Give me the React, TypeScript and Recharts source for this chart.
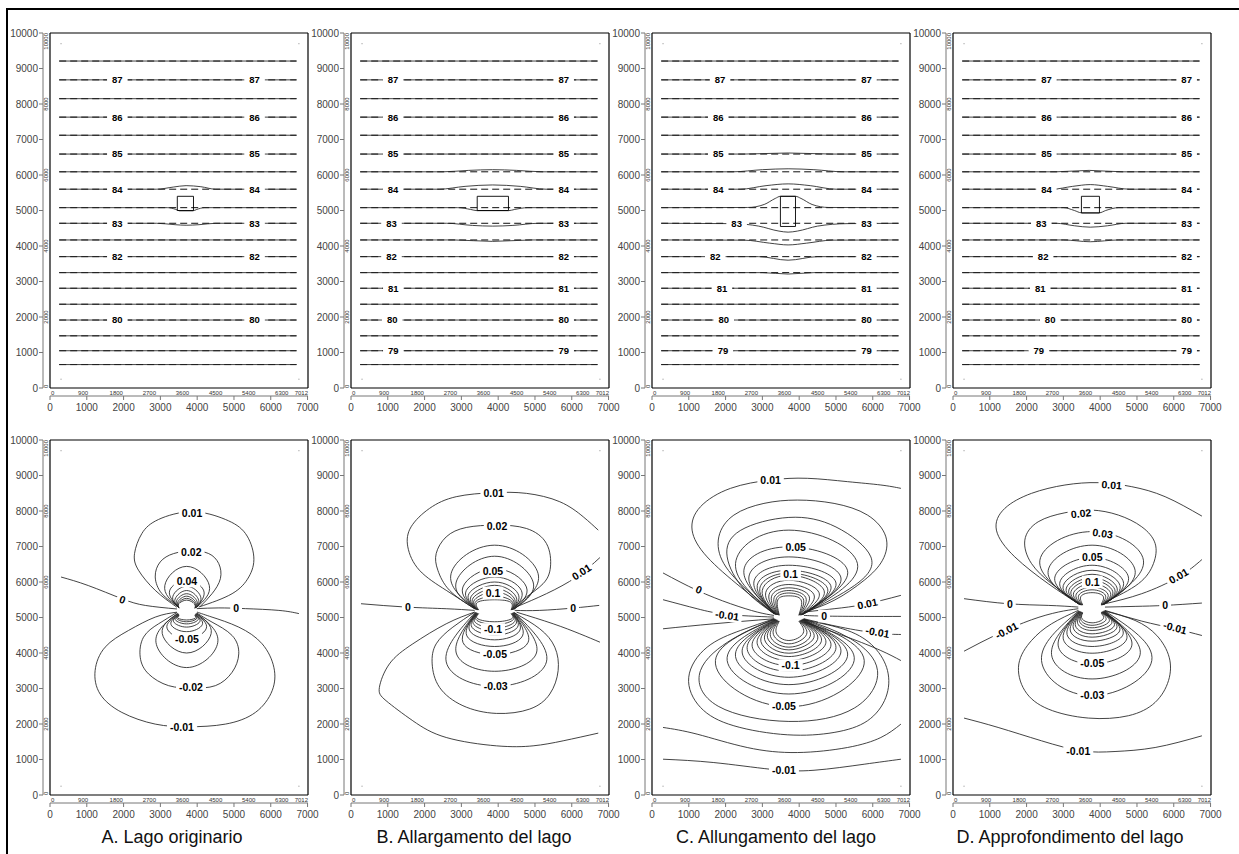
import React from 'react';
import { ComposedChart, Line, Scatter, XAxis, YAxis, ReferenceArea } from 'recharts';

type XY = [number, number];
interface Curve { pts: XY[]; kind: 'natural' | 'monotone' | 'linear'; dash?: boolean }
interface Tag { t: string; x: number; y: number; a?: number }
interface Lake { x1: number; x2: number; y1: number; y2: number }

// axis ticks
const OUTER_X_TICKS = [0, 1000, 2000, 3000, 4000, 5000, 6000, 7000];
const OUTER_Y_TICKS = [0, 1000, 2000, 3000, 4000, 5000, 6000, 7000, 8000, 9000, 10000];
const INNER_X_TICKS = [0, 900, 1800, 2700, 3600, 4500, 5400, 6300, 7012];
const INNER_Y_TICKS = [0, 2000, 4000, 6000, 8000, 10000];
const TOP_TICKS = [1000, 2000, 3000, 4000, 5000, 6000, 7000];

// ---- top row: hydraulic head (m) ----
const HEAD_Y = [9210, 8680, 8150, 7630, 7120, 6590, 6090, 5600, 5080, 4640, 4170, 3700, 3250, 2810, 2360, 1915, 1470, 1050, 660];
const HEAD_LEVELS = ['87.5', '87', '86.5', '86', '85.5', '85', '84.5', '84', '83.5', '83', '82.5', '82', '81.5', '81', '80.5', '80', '79.5', '79', '78.5'];
const HEAD_SPAN = [250, 6700];

const bendA: Record<string, XY[]> = {
  '84': [[250, 5600], [2900, 5600], [3350, 5660], [3700, 5700], [4100, 5670], [4500, 5600], [6700, 5600]],
  '83.5': [[250, 5080], [3200, 5080], [3420, 5030], [3520, 4990], [3880, 4990], [3990, 5030], [4200, 5080], [6700, 5080]],
  '83': [[250, 4640], [2900, 4640], [3400, 4600], [3700, 4585], [4050, 4600], [4500, 4640], [6700, 4640]],
};
const bendB: Record<string, XY[]> = {
  '84.5': [[250, 6090], [2500, 6090], [3200, 6130], [3850, 6150], [4500, 6130], [5200, 6090], [6700, 6090]],
  '84': [[250, 5600], [2400, 5600], [3100, 5680], [3850, 5720], [4600, 5680], [5300, 5600], [6700, 5600]],
  '83.5': [[250, 5080], [2900, 5080], [3250, 5030], [3430, 4995], [4280, 4995], [4450, 5030], [4800, 5080], [6700, 5080]],
  '83': [[250, 4640], [2600, 4640], [3300, 4580], [3850, 4560], [4400, 4580], [5100, 4640], [6700, 4640]],
  '82.5': [[250, 4170], [2800, 4170], [3850, 4130], [4900, 4170], [6700, 4170]],
};
const bendC: Record<string, XY[]> = {
  '85': [[250, 6590], [2500, 6590], [3700, 6620], [4900, 6590], [6700, 6590]],
  '84.5': [[250, 6090], [2200, 6090], [3000, 6150], [3700, 6175], [4400, 6150], [5200, 6090], [6700, 6090]],
  '84': [[250, 5600], [2400, 5600], [3100, 5700], [3700, 5750], [4300, 5700], [5000, 5600], [6700, 5600]],
  '83.5': [[250, 5080], [2600, 5085], [3050, 5170], [3350, 5340], [3490, 5400], [3900, 5400], [4050, 5340], [4350, 5170], [4800, 5085], [6700, 5080]],
  '83': [[250, 4640], [2200, 4630], [2900, 4560], [3450, 4420], [3700, 4390], [3950, 4420], [4500, 4560], [5300, 4630], [6700, 4640]],
  '82.5': [[250, 4170], [2500, 4165], [3200, 4080], [3700, 4030], [4200, 4080], [4900, 4165], [6700, 4170]],
  '82': [[250, 3700], [2900, 3700], [3700, 3600], [4500, 3700], [6700, 3700]],
  '81.5': [[250, 3250], [3000, 3250], [3700, 3210], [4400, 3250], [6700, 3250]],
};
const bendD: Record<string, XY[]> = {
  '84.5': [[250, 6090], [2800, 6090], [3700, 6130], [4600, 6090], [6700, 6090]],
  '84': [[250, 5600], [2700, 5600], [3250, 5680], [3730, 5730], [4200, 5680], [4800, 5600], [6700, 5600]],
  '83.5': [[250, 5080], [3000, 5080], [3300, 5000], [3490, 4935], [3980, 4935], [4150, 5000], [4500, 5080], [6700, 5080]],
  '83': [[250, 4640], [2800, 4640], [3300, 4570], [3730, 4530], [4200, 4570], [4700, 4640], [6700, 4640]],
  '82.5': [[250, 4170], [3000, 4170], [3730, 4120], [4500, 4170], [6700, 4170]],
};

// [label, y, left x, right x]
const headTagsA: [string, number, number, number][] = [
  ['87', 8680, 1830, 5560], ['86', 7630, 1830, 5560], ['85', 6590, 1830, 5560], ['84', 5600, 1830, 5560],
  ['83', 4640, 1830, 5560], ['82', 3700, 1830, 5560], ['80', 1915, 1830, 5560],
];
const headTagsB: [string, number, number, number][] = [
  ['87', 8680, 1140, 5780], ['86', 7630, 1140, 5780], ['85', 6590, 1140, 5780], ['84', 5600, 1140, 5780],
  ['83', 4640, 1100, 5780], ['82', 3700, 1100, 5780], ['81', 2810, 1150, 5780], ['80', 1915, 1120, 5780], ['79', 1050, 1150, 5780],
];
const headTagsC: [string, number, number, number][] = [
  ['87', 8680, 1850, 5830], ['86', 7630, 1800, 5830], ['85', 6590, 1800, 5830], ['84', 5600, 1800, 5830],
  ['83', 4620, 2300, 5830], ['82', 3700, 1720, 5830], ['81', 2810, 1900, 5830], ['80', 1915, 1950, 5830], ['79', 1050, 1930, 5830],
];
const headTagsD: [string, number, number, number][] = [
  ['87', 8680, 2540, 6350], ['86', 7630, 2540, 6350], ['85', 6590, 2540, 6350], ['84', 5600, 2540, 6350],
  ['83', 4640, 2400, 6350], ['82', 3700, 2450, 6350], ['81', 2810, 2370, 6350], ['80', 1915, 2640, 6350], ['79', 1050, 2330, 6350],
];

const lakeTopA: Lake = { x1: 3460, x2: 3900, y1: 5000, y2: 5400 };
const lakeTopB: Lake = { x1: 3430, x2: 4280, y1: 5000, y2: 5400 };
const lakeTopC: Lake = { x1: 3490, x2: 3900, y1: 4550, y2: 5400 };
const lakeTopD: Lake = { x1: 3490, x2: 3980, y1: 4930, y2: 5400 };

// ---- bottom row: head change (m) ----
const aOpen: XY[][] = [
  [[300, 6140], [1040, 5900], [1950, 5530], [2590, 5340], [3450, 5240]],
  [[3990, 5250], [4590, 5270], [5310, 5250], [6220, 5200], [6765, 5110]],
];
const aUpper: XY[][] = [
  [[3450, 5290], [2860, 5765], [2406, 6330], [2297, 6800], [2497, 7366], [2951, 7762], [3859, 7979], [4767, 7762], [5312, 7366], [5539, 6707], [5403, 6142], [4949, 5671], [4041, 5294]],
  [[3478, 5313], [3042, 5671], [2860, 6142], [2996, 6566], [3360, 6801], [3859, 6877], [4313, 6801], [4586, 6519], [4631, 6095], [4404, 5671], [4086, 5313]],
  [[3480, 5300], [3120, 5900], [3714, 6440], [4330, 5900], [4000, 5300]],
  [[3490, 5290], [3250, 5750], [3714, 6040], [4180, 5750], [3990, 5290]],
  [[3500, 5280], [3340, 5600], [3714, 5880], [4090, 5600], [3980, 5280]],
  [[3505, 5275], [3400, 5520], [3714, 5760], [4030, 5520], [3970, 5275]],
  [[3510, 5270], [3440, 5470], [3714, 5670], [3990, 5470], [3960, 5270]],
  [[3515, 5265], [3470, 5430], [3714, 5600], [3960, 5430], [3950, 5265]],
  [[3520, 5260], [3490, 5400], [3714, 5540], [3940, 5400], [3940, 5260]],
  [[3520, 5260], [3500, 5380], [3714, 5490], [3925, 5380], [3935, 5260]],
];
const aLower: XY[][] = [
  [[3450, 5150], [2860, 5011], [2134, 4635], [1498, 4164], [1226, 3504], [1362, 2845], [1952, 2327], [2860, 1997], [3768, 1922], [4767, 1997], [5584, 2327], [6038, 2939], [6084, 3598], [5766, 4258], [5130, 4729], [4404, 5011], [3995, 5153]],
  [[3450, 5140], [2951, 4823], [2542, 4446], [2452, 3881], [2679, 3410], [3224, 3080], [3859, 3014], [4495, 3080], [4949, 3457], [5130, 3975], [4949, 4493], [4404, 4870], [3995, 5125]],
  [[3470, 5120], [2880, 4300], [3714, 3590], [4560, 4300], [3980, 5120]],
  [[3480, 5110], [3050, 4550], [3714, 4000], [4380, 4550], [3970, 5110]],
  [[3490, 5100], [3180, 4700], [3714, 4400], [4250, 4700], [3960, 5100]],
  [[3500, 5090], [3290, 4800], [3714, 4600], [4140, 4800], [3950, 5090]],
  [[3505, 5080], [3360, 4880], [3714, 4730], [4070, 4880], [3945, 5080]],
  [[3510, 5070], [3410, 4930], [3714, 4820], [4020, 4930], [3940, 5070]],
  [[3515, 5060], [3450, 4960], [3714, 4880], [3980, 4960], [3935, 5060]],
  [[3518, 5050], [3480, 4980], [3714, 4930], [3950, 4980], [3930, 5050]],
];
const aTags: Tag[] = [
  { t: '0.01', x: 3860, y: 7950 }, { t: '0.02', x: 3841, y: 6848 }, { t: '0.04', x: 3723, y: 6029 },
  { t: '0', x: 1970, y: 5500, a: 19 }, { t: '0', x: 5058, y: 5266 },
  { t: '-0.05', x: 3723, y: 4399 }, { t: '-0.02', x: 3832, y: 3033 }, { t: '-0.01', x: 3587, y: 1922 },
];
const aLake: Lake = { x1: 3520, x2: 3900, y1: 5000, y2: 5410 };

const bOpen: XY[][] = [
  [[272, 5388], [1498, 5294], [2588, 5247], [3360, 5200]],
  [[4449, 5200], [5130, 5200], [6038, 5266], [6746, 5341]],
  [[4500, 5150], [5494, 4823], [6220, 4540], [6765, 4305]],
  [[4495, 5300], [5312, 5671], [6129, 6142], [6765, 6688]],
  [[3360, 5247], [2588, 5765], [1861, 6330], [1544, 6990], [1634, 7555], [2134, 8073], [2860, 8403], [3859, 8516], [4767, 8497], [5675, 8261], [6311, 7837], [6720, 7461]],
  [[3360, 5153], [2588, 4823], [1680, 4258], [1044, 3693], [772, 3033], [953, 2656], [1680, 2091], [2588, 1620], [3950, 1385], [4949, 1385], [5766, 1526], [6720, 1743]],
];
const bUpper: XY[][] = [
  [[3360, 5247], [2679, 5765], [2361, 6330], [2315, 6801], [2588, 7272], [3133, 7536], [3950, 7602], [4767, 7508], [5312, 7084], [5421, 6424], [5221, 5953], [4767, 5577], [4449, 5294]],
  [[3380, 5240], [2720, 6236], [3905, 7037], [5085, 6236], [4440, 5240]],
  [[3390, 5235], [2860, 6000], [3905, 6726], [4949, 6000], [4430, 5235]],
  [[3400, 5230], [3042, 5860], [3905, 6377], [4767, 5860], [4420, 5230]],
  [[3410, 5225], [3133, 5760], [3905, 6142], [4631, 5760], [4410, 5225]],
  [[3420, 5220], [3205, 5670], [3905, 6000], [4540, 5670], [4400, 5220]],
  [[3430, 5218], [3269, 5600], [3905, 5906], [4477, 5600], [4390, 5218]],
  [[3440, 5215], [3320, 5550], [3905, 5812], [4430, 5550], [4380, 5215]],
  [[3450, 5212], [3360, 5500], [3905, 5720], [4400, 5500], [4370, 5212]],
  [[3460, 5210], [3400, 5460], [3905, 5600], [4370, 5460], [4360, 5210]],
  [[3470, 5208], [3440, 5430], [3905, 5500], [4340, 5430], [4350, 5208]],
];
const bLower: XY[][] = [
  [[3360, 5153], [2769, 4729], [2315, 4258], [2206, 3693], [2406, 3033], [3042, 2515], [3950, 2298], [4858, 2421], [5403, 2845], [5630, 3504], [5539, 4164], [5130, 4682], [4449, 5125]],
  [[3380, 5150], [2588, 3750], [3905, 3061], [5312, 3750], [4440, 5150]],
  [[3390, 5145], [2860, 4000], [3905, 3485], [5040, 4000], [4430, 5145]],
  [[3400, 5140], [3042, 4300], [3905, 3956], [4813, 4300], [4420, 5140]],
  [[3410, 5135], [3150, 4480], [3905, 4183], [4660, 4480], [4410, 5135]],
  [[3420, 5130], [3230, 4620], [3905, 4371], [4580, 4620], [4400, 5130]],
  [[3430, 5125], [3290, 4720], [3905, 4503], [4520, 4720], [4390, 5125]],
  [[3440, 5120], [3340, 4800], [3905, 4610], [4470, 4800], [4380, 5120]],
  [[3450, 5115], [3380, 4860], [3905, 4700], [4430, 4860], [4370, 5115]],
  [[3460, 5110], [3420, 4920], [3905, 4800], [4390, 4920], [4360, 5110]],
  [[3470, 5105], [3450, 4960], [3905, 4880], [4360, 4960], [4350, 5105]],
];
const bTags: Tag[] = [
  { t: '0.01', x: 3877, y: 8497 }, { t: '0.02', x: 3968, y: 7583 }, { t: '0.05', x: 3859, y: 6311 }, { t: '0.1', x: 3859, y: 5690 },
  { t: '0', x: 1544, y: 5294 }, { t: '0', x: 6038, y: 5266 }, { t: '0.01', x: 6265, y: 6283, a: -33 },
  { t: '-0.1', x: 3859, y: 4663 }, { t: '-0.05', x: 3914, y: 3956 }, { t: '-0.03', x: 3932, y: 3061 },
];
const bLake: Lake = { x1: 3514, x2: 4295, y1: 5011, y2: 5407 };

const cOpen: XY[][] = [
  [[300, 6255], [1226, 5765], [2134, 5388], [2860, 5153], [3314, 5059]],
  [[300, 5501], [1226, 5247], [2043, 5087], [3314, 5011]],
  [[300, 4682], [1680, 4823], [3314, 4964]],
  [[4131, 5153], [4949, 5247], [5766, 5369], [6765, 5624]],
  [[4131, 5059], [4676, 5040], [5766, 5030], [6765, 5030]],
  [[4131, 4964], [5130, 4729], [6129, 4559], [6765, 4522]],
  [[4131, 4870], [5312, 4446], [6220, 4069], [6765, 3787]],
  [[3314, 5106], [2406, 5859], [1498, 6707], [1090, 7461], [1317, 8120], [2134, 8638], [3223, 8874], [4222, 8921], [5312, 8827], [6220, 8732], [6765, 8638]],
  [[300, 1008], [1680, 914], [3223, 725], [4404, 697], [5766, 867], [6765, 1008]],
  [[300, 1903], [1226, 1714], [2588, 1338], [3950, 1196], [5312, 1338], [6220, 1620], [6765, 1997]],
];
const cUpper: XY[][] = [
  [[3314, 5106], [2588, 5765], [1952, 6519], [1816, 7272], [2225, 7885], [3042, 8214], [3950, 8308], [4949, 8214], [5857, 7885], [6356, 7272], [6265, 6613], [5766, 6048], [4949, 5483], [4131, 5153]],
  [[3330, 5100], [2500, 5800], [2043, 6707], [2400, 7450], [3720, 7819], [5000, 7550], [5948, 6707], [5500, 5900], [4120, 5100]],
  [[3340, 5095], [2270, 6519], [3720, 7461], [5584, 6519], [4110, 5095]],
  [[3350, 5090], [2497, 6330], [3720, 6990], [5312, 6330], [4100, 5090]],
  [[3360, 5085], [2633, 6142], [3720, 6707], [5130, 6142], [4090, 5085]],
  [[3370, 5080], [2769, 6000], [3720, 6472], [4994, 6000], [4080, 5080]],
  [[3380, 5078], [2860, 5900], [3720, 6330], [4858, 5900], [4070, 5078]],
  [[3390, 5076], [2930, 5820], [3720, 6250], [4770, 5820], [4060, 5076]],
  [[3400, 5074], [2996, 5760], [3720, 6189], [4676, 5760], [4050, 5074]],
  [[3410, 5072], [3090, 5700], [3720, 6048], [4540, 5700], [4040, 5072]],
  [[3420, 5070], [3180, 5640], [3720, 5930], [4404, 5640], [4030, 5070]],
  [[3430, 5068], [3250, 5600], [3720, 5836], [4270, 5600], [4020, 5068]],
  [[3440, 5066], [3320, 5560], [3720, 5760], [4180, 5560], [4010, 5066]],
  [[3450, 5064], [3380, 5530], [3720, 5690], [4110, 5530], [4000, 5064]],
  [[3460, 5062], [3420, 5500], [3720, 5610], [4050, 5500], [3990, 5062]],
];
const cLower: XY[][] = [
  [[3314, 4964], [2406, 4635], [1498, 4164], [998, 3316], [1317, 2468], [2225, 1950], [3678, 1696], [4949, 1762], [5857, 2091], [6356, 2751], [6401, 3504], [6038, 4164], [5312, 4635], [4131, 4936]],
  [[3330, 4960], [2200, 4400], [1317, 3504], [1800, 2500], [3720, 2072], [5500, 2450], [6129, 3504], [5400, 4400], [4120, 4960]],
  [[3340, 4955], [1725, 3693], [3720, 2487], [5766, 3693], [4110, 4955]],
  [[3350, 4950], [2043, 3787], [3720, 2845], [5494, 3787], [4100, 4950]],
  [[3360, 4945], [2270, 3900], [3720, 3109], [5312, 3900], [4090, 4945]],
  [[3370, 4940], [2452, 4000], [3720, 3316], [5130, 4000], [4080, 4940]],
  [[3380, 4935], [2588, 4100], [3720, 3485], [4994, 4100], [4070, 4935]],
  [[3390, 4930], [2724, 4180], [3720, 3645], [4858, 4180], [4060, 4930]],
  [[3400, 4925], [2860, 4260], [3720, 3787], [4720, 4260], [4050, 4925]],
  [[3410, 4920], [2960, 4320], [3720, 3900], [4600, 4320], [4040, 4920]],
  [[3420, 4915], [3060, 4380], [3720, 3994], [4500, 4380], [4030, 4915]],
  [[3430, 4910], [3140, 4430], [3720, 4088], [4400, 4430], [4020, 4910]],
  [[3440, 4905], [3220, 4470], [3720, 4164], [4300, 4470], [4010, 4905]],
  [[3450, 4900], [3300, 4520], [3720, 4258], [4200, 4520], [4000, 4900]],
  [[3460, 4895], [3380, 4560], [3720, 4352], [4110, 4560], [3990, 4895]],
];
const cTags: Tag[] = [
  { t: '0.01', x: 3223, y: 8855 }, { t: '0.05', x: 3905, y: 6990 }, { t: '0.1', x: 3768, y: 6217 },
  { t: '0', x: 1271, y: 5784, a: 22 }, { t: '-0.01', x: 2043, y: 5059, a: 8 },
  { t: '0.01', x: 5857, y: 5388, a: -12 }, { t: '0', x: 4676, y: 5040 }, { t: '-0.01', x: 6129, y: 4588, a: 10 },
  { t: '-0.1', x: 3768, y: 3645 }, { t: '-0.05', x: 3587, y: 2487 }, { t: '-0.01', x: 3587, y: 697 },
];
const cLake: Lake = { x1: 3514, x2: 3923, y1: 4635, y2: 5501 };

const dOpen: XY[][] = [
  [[300, 5530], [1498, 5388], [2588, 5341], [3405, 5294]],
  [[4131, 5294], [4949, 5313], [5766, 5341], [6765, 5407]],
  [[300, 4051], [1226, 4540], [2134, 4936], [2860, 5153], [3405, 5247]],
  [[4131, 5200], [5130, 4898], [6038, 4682], [6765, 4493]],
  [[4131, 5388], [5130, 5671], [6129, 6142], [6765, 6632]],
  [[3405, 5388], [2588, 5953], [1680, 6707], [1180, 7461], [1407, 8073], [2134, 8497], [3042, 8732], [3950, 8798], [4858, 8685], [5766, 8403], [6765, 7856]],
  [[300, 2167], [1226, 1903], [2406, 1526], [3496, 1243], [4404, 1225], [5494, 1338], [6765, 1667]],
];
const dUpper: XY[][] = [
  [[3405, 5388], [2679, 5953], [2134, 6519], [1952, 7178], [2315, 7696], [3042, 7950], [3768, 8026], [4495, 7885], [5130, 7555], [5494, 7084], [5448, 6519], [5040, 5953], [4131, 5435]],
  [[3420, 5380], [2361, 6613], [3780, 7420], [5176, 6613], [4120, 5380]],
  [[3430, 5375], [2588, 6330], [3780, 7037], [4949, 6330], [4110, 5375]],
  [[3440, 5370], [2769, 6142], [3780, 6688], [4767, 6142], [4100, 5370]],
  [[3450, 5365], [2906, 6000], [3780, 6472], [4631, 6000], [4090, 5365]],
  [[3460, 5362], [2996, 5900], [3780, 6330], [4540, 5900], [4080, 5362]],
  [[3470, 5360], [3080, 5830], [3780, 6217], [4460, 5830], [4070, 5360]],
  [[3480, 5358], [3150, 5780], [3780, 6120], [4400, 5780], [4060, 5358]],
  [[3490, 5356], [3210, 5740], [3780, 6048], [4340, 5740], [4050, 5356]],
  [[3500, 5354], [3280, 5700], [3780, 5953], [4280, 5700], [4040, 5354]],
  [[3510, 5352], [3350, 5660], [3780, 5860], [4210, 5660], [4030, 5352]],
  [[3520, 5350], [3420, 5630], [3780, 5780], [4140, 5630], [4020, 5350]],
  [[3530, 5348], [3480, 5600], [3780, 5700], [4080, 5600], [4010, 5348]],
];
const dLower: XY[][] = [
  [[3405, 5200], [2679, 4823], [2134, 4352], [1789, 3693], [1952, 2939], [2588, 2421], [3678, 2167], [4767, 2233], [5494, 2609], [5857, 3222], [5875, 3881], [5539, 4493], [4949, 4917], [4131, 5181]],
  [[3420, 5190], [2406, 3787], [3780, 2798], [5403, 3787], [4120, 5190]],
  [[3430, 5185], [2679, 3950], [3780, 3269], [5085, 3950], [4110, 5185]],
  [[3440, 5180], [2860, 4200], [3780, 3693], [4858, 4200], [4100, 5180]],
  [[3450, 5175], [2996, 4400], [3780, 3994], [4722, 4400], [4090, 5175]],
  [[3460, 5170], [3100, 4520], [3780, 4183], [4620, 4520], [4080, 5170]],
  [[3470, 5165], [3190, 4620], [3780, 4333], [4530, 4620], [4070, 5165]],
  [[3480, 5160], [3270, 4700], [3780, 4446], [4450, 4700], [4060, 5160]],
  [[3490, 5155], [3330, 4760], [3780, 4540], [4380, 4760], [4050, 5155]],
  [[3500, 5150], [3390, 4830], [3780, 4635], [4310, 4830], [4040, 5150]],
  [[3510, 5145], [3440, 4880], [3780, 4710], [4240, 4880], [4030, 5145]],
  [[3520, 5140], [3480, 4920], [3780, 4780], [4150, 4920], [4020, 5140]],
  [[3530, 5135], [3510, 4960], [3780, 4850], [4080, 4960], [4010, 5135]],
];
const dTags: Tag[] = [
  { t: '0.01', x: 4313, y: 8732, a: 4 }, { t: '0.02', x: 3478, y: 7932, a: -6 }, { t: '0.03', x: 4068, y: 7366, a: 8 },
  { t: '0.05', x: 3786, y: 6688 }, { t: '0.1', x: 3786, y: 6000 },
  { t: '0', x: 1544, y: 5388 }, { t: '0', x: 5766, y: 5341 },
  { t: '-0.01', x: 1453, y: 4635, a: -28 }, { t: '-0.01', x: 6038, y: 4710, a: 15 }, { t: '0.01', x: 6129, y: 6170, a: -30 },
  { t: '-0.05', x: 3786, y: 3711 }, { t: '-0.03', x: 3786, y: 2798 }, { t: '-0.01', x: 3405, y: 1243 },
];
const dLake: Lake = { x1: 3540, x2: 4020, y1: 5030, y2: 5520 };

const cornerDots: XY[] = [[300, 9700], [6765, 9700], [300, 250], [6765, 250]];

const COL_LEFT = [0, 301, 602, 903];
const ROW_TOP = [23, 430];
const TITLES: [string, number][] = [
  ['A. Lago originario', 172], ['B. Allargamento del lago', 474],
  ['C. Allungamento del lago', 776], ['D. Approfondimento del lago', 1070],
];

const headCurves = (bend: Record<string, XY[]>): Curve[] => {
  const out: Curve[] = [];
  HEAD_Y.forEach((y, i) => {
    out.push({ pts: [[HEAD_SPAN[0], y], [HEAD_SPAN[1], y]], kind: 'linear', dash: true });
    const b = bend[HEAD_LEVELS[i]];
    out.push({ pts: b ?? [[HEAD_SPAN[0], y], [HEAD_SPAN[1], y]], kind: 'monotone' });
  });
  return out;
};
const headTags = (rows: [string, number, number, number][]): Tag[] =>
  rows.flatMap(([t, y, xl, xr]) => [{ t, x: xl, y }, { t, x: xr, y }]);
const bottomCurves = (...groups: XY[][][]): Curve[] =>
  groups.flat().map((pts) => ({ pts, kind: 'natural' as const }));

const charW = (c: string) => (c === '.' ? 0.278 : c === '-' ? 0.333 : 0.556);

const tagShape = (size: number, pad: number) => (p: any) => {
  const { cx, cy, payload } = p;
  if (cx == null || cy == null) return <g />;
  const w = payload.t.split('').reduce((s: number, c: string) => s + charW(c), 0) * size + pad * 2;
  return (
    <g transform={`translate(${cx},${cy}) rotate(${payload.a ?? 0})`}>
      <rect x={-w / 2} y={-size * 0.6} width={w} height={size * 1.2} fill="#fff" />
      <text x={0} y={size * 0.36} textAnchor="middle" fontSize={size} fontWeight="bold" fill="#000">
        {payload.t}
      </text>
    </g>
  );
};

const dotShape = (p: any) => <circle cx={p.cx} cy={p.cy} r={0.7} fill="#aaa" />;

const InnerXTick = (p: any) => {
  const { x, y, payload } = p;
  const v = payload.value;
  const anchor = v === 0 ? 'start' : v === 7012 ? 'end' : 'middle';
  return (
    <text x={x + (v === 0 ? 1 : 0)} y={y + 6.5} fontSize={6} fill="#333" textAnchor={anchor}>
      {v}
    </text>
  );
};

const InnerYTick = (p: any) => {
  const { x, y, payload } = p;
  const v = payload.value;
  const anchor = v === 0 ? 'start' : v === 10000 ? 'end' : 'middle';
  return (
    <text transform={`translate(${x - 4},${y}) rotate(-90)`} dy={2} fontSize={6} fill="#333" textAnchor={anchor}>
      {v}
    </text>
  );
};

const OuterXTick = (p: any) => {
  const { x, y, payload } = p;
  return (
    <text x={x} y={y + 9} fontSize={10} fill="#444" textAnchor="middle">
      {payload.value}
    </text>
  );
};

interface PanelProps {
  left: number;
  top: number;
  curves: Curve[];
  tags: Tag[];
  lake: Lake;
  filled: boolean;
  tagSize: number;
  tagPad: number;
}

const Panel = ({ left, top, curves, tags, lake, filled, tagSize, tagPad }: PanelProps) => (
  <div style={{ position: 'absolute', left, top }}>
    <ComposedChart width={330} height={395} margin={{ top: 4, right: 16, bottom: 2, left: 5 }}>
      <XAxis
        xAxisId="in" dataKey="x" type="number" domain={[0, 7012]} allowDataOverflow
        ticks={INNER_X_TICKS} interval={0} height={8} tickSize={0} tickMargin={0}
        axisLine={{ stroke: '#000', strokeWidth: 1.2 }} tickLine={false} tick={<InnerXTick />}
      />
      <XAxis
        xAxisId="out" dataKey="x" type="number" domain={[0, 7012]} allowDataOverflow hide={false}
        ticks={OUTER_X_TICKS} interval={0} height={20} tickSize={4} tickMargin={2}
        axisLine={{ stroke: '#777' }} tickLine={{ stroke: '#777' }} tick={<OuterXTick />}
      />
      <XAxis
        xAxisId="top" orientation="top" type="number" domain={[0, 7012]} allowDataOverflow
        ticks={TOP_TICKS} interval={0} height={6} tickSize={5} tick={false}
        axisLine={{ stroke: '#000', strokeWidth: 1.2 }} tickLine={{ stroke: '#555' }}
      />
      <YAxis
        yAxisId="in" dataKey="y" type="number" domain={[0, 10000]} allowDataOverflow
        ticks={INNER_Y_TICKS} interval={0} width={7} tickSize={0} tickMargin={0}
        axisLine={{ stroke: '#000', strokeWidth: 1.2 }} tickLine={false} tick={<InnerYTick />}
      />
      <YAxis
        yAxisId="out" dataKey="y" type="number" domain={[0, 10000]} allowDataOverflow
        ticks={OUTER_Y_TICKS} interval={0} width={38} tickSize={4} tickMargin={1}
        axisLine={{ stroke: '#777' }} tickLine={{ stroke: '#777' }} tick={{ fontSize: 10, fill: '#444' }}
      />
      <YAxis
        yAxisId="right" orientation="right" type="number" domain={[0, 10000]} allowDataOverflow
        ticks={OUTER_Y_TICKS} interval={0} width={6} tickSize={4} tick={false}
        axisLine={{ stroke: '#000', strokeWidth: 1.2 }} tickLine={{ stroke: '#555' }}
      />
      {curves.map((c, i) => (
        <Line
          key={`c${i}`}
          xAxisId="in"
          yAxisId="in"
          data={c.pts.map(([x, y]) => ({ x, y }))}
          dataKey="y"
          type={c.kind}
          stroke={c.dash ? '#000' : '#222'}
          strokeWidth={c.dash ? 0.95 : 0.85}
          strokeDasharray={c.dash ? '7 4' : undefined}
          dot={false}
          activeDot={false}
          isAnimationActive={false}
        />
      ))}
      <ReferenceArea
        xAxisId="in"
        yAxisId="in"
        x1={lake.x1}
        x2={lake.x2}
        y1={lake.y1}
        y2={lake.y2}
        fill={filled ? '#fff' : 'none'}
        fillOpacity={1}
        stroke={filled ? 'none' : '#000'}
        strokeWidth={0.9}
        ifOverflow="visible"
        zIndex={500}
      />
      <Scatter
        xAxisId="out" yAxisId="out"
        data={cornerDots.map(([x, y]) => ({ x, y }))}
        shape={dotShape}
        isAnimationActive={false}
      />
      <Scatter
        xAxisId="in" yAxisId="in"
        data={tags}
        shape={tagShape(tagSize, tagPad)}
        isAnimationActive={false}
      />
    </ComposedChart>
  </div>
);

const topPanels = [
  { curves: headCurves(bendA), tags: headTags(headTagsA), lake: lakeTopA },
  { curves: headCurves(bendB), tags: headTags(headTagsB), lake: lakeTopB },
  { curves: headCurves(bendC), tags: headTags(headTagsC), lake: lakeTopC },
  { curves: headCurves(bendD), tags: headTags(headTagsD), lake: lakeTopD },
];
const bottomPanels = [
  { curves: bottomCurves(aOpen, aUpper, aLower), tags: aTags, lake: aLake },
  { curves: bottomCurves(bOpen, bUpper, bLower), tags: bTags, lake: bLake },
  { curves: bottomCurves(cOpen, cUpper, cLower), tags: cTags, lake: cLake },
  { curves: bottomCurves(dOpen, dUpper, dLower), tags: dTags, lake: dLake },
];

export default function App() {
  return (
    <div
      style={{
        position: 'absolute', left: 0, top: 0, width: 1239, height: 854, overflow: 'hidden',
        background: '#fff', fontFamily: '"Liberation Sans", Arial, sans-serif',
      }}
    >
      <div style={{ position: 'absolute', left: 6, top: 8, right: -4, bottom: -4, borderTop: '2px solid #000', borderLeft: '2px solid #000' }} />
      {topPanels.map((p, i) => (
        <Panel key={`t${i}`} left={COL_LEFT[i]} top={ROW_TOP[0]} curves={p.curves} tags={p.tags} lake={p.lake} filled={false} tagSize={9.5} tagPad={5} />
      ))}
      {bottomPanels.map((p, i) => (
        <Panel key={`b${i}`} left={COL_LEFT[i]} top={ROW_TOP[1]} curves={p.curves} tags={p.tags} lake={p.lake} filled tagSize={10.5} tagPad={3} />
      ))}
      {TITLES.map(([t, cx]) => (
        <div
          key={t}
          style={{ position: 'absolute', left: cx - 150, width: 300, top: 827, lineHeight: '20px', fontSize: 18, textAlign: 'center', color: '#111' }}
        >
          {t}
        </div>
      ))}
    </div>
  );
}
